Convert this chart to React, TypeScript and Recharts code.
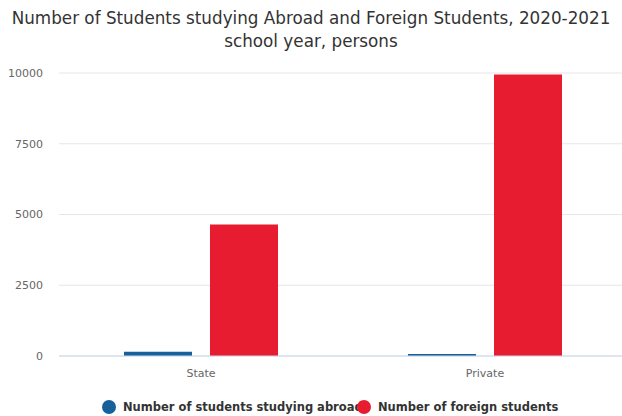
import { BarChart, Bar, XAxis, YAxis, CartesianGrid } from 'recharts'

const categories = ['State', 'Private']
const studyingAbroad = [150, 70]
const foreignStudents = [4650, 9950]
const yTicks = [0, 2500, 5000, 7500, 10000]

const seriesNames = ['Number of students studying abroad', 'Number of foreign students']
const seriesColors = ['#17609a', '#e81c31']

const data = categories.map((name, i) => ({
  name,
  abroad: studyingAbroad[i],
  foreign: foreignStudents[i],
}))

const font = '"DejaVu Sans", sans-serif'

const App = () => {
  return (
    <div
      style={{
        position: 'absolute',
        left: 0,
        top: 0,
        width: 622,
        height: 416,
        background: '#fff',
        fontFamily: font,
        overflow: 'hidden',
      }}
    >
      <div
        style={{
          position: 'absolute',
          top: 7,
          left: 0,
          width: 622,
          textAlign: 'center',
          fontSize: 16.8,
          lineHeight: '23px',
          color: '#333',
        }}
      >
        Number of Students studying Abroad and Foreign Students, 2020-2021
        <br />
        school year, persons
      </div>
      <BarChart
        width={622}
        height={416}
        data={data}
        margin={{ top: 73, right: -5, bottom: 30, left: 0 }}
        barSize={68}
        barGap={18}
      >
        <CartesianGrid vertical={false} stroke="#e6e6e6" />
        <XAxis
          dataKey="name"
          axisLine={{ stroke: '#ccd6eb' }}
          tickLine={false}
          tick={{ fill: '#666', fontSize: 11, fontFamily: font }}
          tickMargin={7}
          height={30}
        />
        <YAxis
          domain={[0, 10000]}
          ticks={yTicks}
          axisLine={false}
          tickLine={false}
          tickSize={0}
          tickMargin={16}
          width={59}
          tick={{ fill: '#666', fontSize: 11, fontFamily: font }}
        />
        <Bar dataKey="abroad" fill={seriesColors[0]} isAnimationActive={false} />
        <Bar dataKey="foreign" fill={seriesColors[1]} isAnimationActive={false} />
      </BarChart>
      <div
        style={{
          position: 'absolute',
          top: 399,
          left: 102,
          display: 'flex',
          fontSize: 11.5,
          fontWeight: 'bold',
          color: '#333',
          lineHeight: '16px',
        }}
      >
        {seriesNames.map((n, i) => (
          <div
            key={n}
            style={{
              display: 'flex',
              alignItems: 'center',
              width: i === 0 ? 255 : 220,
              whiteSpace: 'nowrap',
              position: 'relative',
              zIndex: i,
            }}
          >
            <span
              style={{
                display: 'inline-block',
                width: 14,
                height: 14,
                borderRadius: '50%',
                background: seriesColors[i],
                marginRight: 7,
                flexShrink: 0,
              }}
            />
            {n}
          </div>
        ))}
      </div>
    </div>
  )
}

export default App
